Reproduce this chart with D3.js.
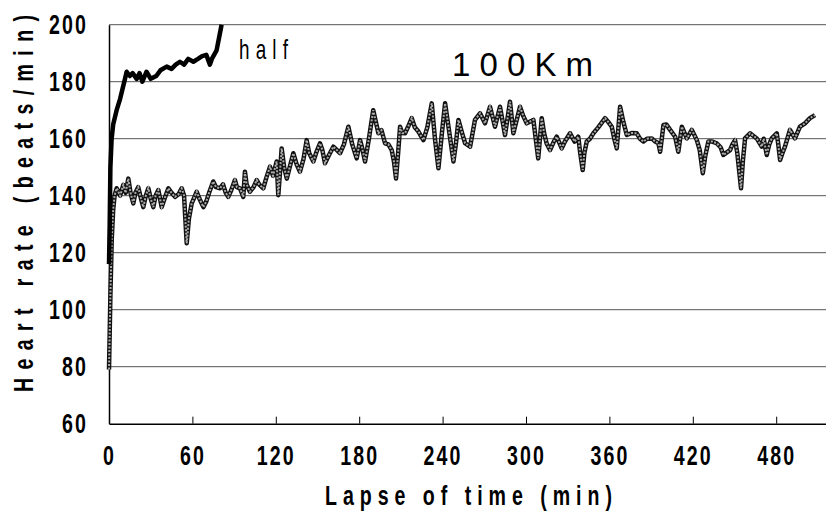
<!DOCTYPE html>
<html lang="en">

<head>
  <meta charset="UTF-8">
  <script src="https://d3js.org/d3.v7.min.js"></script>
  <style>
    html, body {
      margin: 0px;
      padding: 0px;
      background-color: white;
    }

    .tick text {
      font-family: "Liberation Sans", Arial, sans-serif;
      font-weight: bold;
      font-size: 28px;
      fill: black;
    }

    .title {
      font-family: "Liberation Sans", Arial, sans-serif;
      font-weight: bold;
      font-size: 28px;
      fill: black;
    }
  </style>
</head>

<body>
  <svg id="plot-svg" width="826" height="511"></svg>

  <script>
    // tick labels
    const xTicks = [0, 60, 120, 180, 240, 300, 360, 420, 480];
    const yTicks = [60, 80, 100, 120, 140, 160, 180, 200];

    // "half" marathon run
    const halfTime = [0, 0.5, 1, 1.9, 3, 5.5, 8, 10, 11.5, 12.7, 15, 17, 19.9, 22, 24, 27, 30, 34, 37,
      41.5, 45, 48, 51, 54, 57, 60.7, 64, 67, 70, 72.6, 74, 77.4, 79, 81];
    const halfRate = [116, 130, 150, 160, 165, 170, 174, 178, 181, 183.5, 182, 183, 181, 183, 180, 183.5, 181, 182, 184,
      185.3, 184.5, 186, 187, 186, 188, 187, 188, 189, 189.4, 186, 188, 191, 195, 200];

    // 100Km run
    const kmTime = [0, 1, 2, 3, 4, 5.5, 6.2, 8, 10.3, 12, 13.9, 15.5, 17.5, 19, 21, 23, 24.7, 26.5, 28.3, 30,
      31.9, 33.5, 35.5, 37.9, 40, 42.7, 45, 47.5, 50, 52.3, 54, 55.9, 57.5, 59.5, 61, 63.1, 65, 67.9, 70, 72,
      75, 77, 79.9, 82, 84, 85.8, 88, 90.6, 92, 94.2, 96.6, 97.8, 99, 101.4, 104, 106.3, 108, 111, 113, 115.8,
      118, 120.6, 121.8, 123, 124.2, 126, 127.9, 130, 132.6, 135, 137.4, 140, 142.2, 144, 147, 149, 151.8, 153.5, 155.4, 158,
      161.4, 164, 166.2, 169, 172.2, 175, 178.2, 180.6, 182, 184.2, 187, 190.1, 193.8, 196, 198.6, 201, 203.4, 205, 206.5, 208,
      209.4, 211, 213, 215, 217.8, 220, 222.6, 226.2, 229, 232.2, 234.5, 237, 239.5, 241.8, 244, 247.8, 249.5, 251.4, 254, 256.2,
      259.8, 263.3, 266.9, 270.5, 274.1, 277.7, 281.3, 284.9, 288.5, 290.9, 295.7, 298, 300.5, 305.3, 307, 308.8, 311.3, 313, 314.8, 317.3,
      320, 322.1, 325.7, 328, 331.7, 335, 337.6, 339, 340.8, 342, 343.7, 346, 348.5, 352, 356.9, 359, 361.7, 363.5, 365.3, 366.5,
      367.7, 370, 372.5, 376, 379.7, 382, 384.5, 387, 390.5, 393, 395.3, 396.5, 398.9, 401, 403.7, 407.3, 409.6, 412.1, 415.7, 419.3,
      422.9, 425, 427.2, 429, 431.2, 434, 437.2, 440, 442, 444, 446.8, 448.5, 450.4, 452, 454.7, 456, 457.6, 461.2, 466, 469.6,
      471, 473.2, 475, 476.8, 480.4, 481.5, 482.8, 484.5, 486.3, 489.9, 493.5, 497.1, 500.7, 504.3, 507.9];
    const kmRate = [79, 105, 125, 135, 140, 142.6, 142, 140, 143.8, 141, 146, 141, 137.3, 141, 143, 139, 136, 140, 142.6, 139,
      136, 140, 142, 136, 139, 142.6, 141, 139.6, 140.5, 142.6, 140, 123.3, 132, 137.3, 139, 141.4, 139, 136, 138, 141,
      145, 143, 142.6, 144, 141, 139.6, 142, 145.5, 143, 142.6, 139.6, 148.4, 144, 141.4, 143, 145.5, 144, 142.6, 146, 150.2,
      147, 152, 140.2, 148, 156.6, 150, 146, 150, 154.9, 151, 148.4, 153, 159.5, 155, 152, 155, 158.4, 156, 151.4, 154,
      157.2, 156, 154.9, 158, 164.2, 158, 153.1, 159.5, 157, 152, 160, 170, 161.9, 163, 158.4, 158, 156, 152, 146, 155,
      164.2, 162, 161.9, 164, 167.2, 164, 162.5, 159.5, 164, 172.4, 160, 149.6, 162, 172.4, 165, 152, 158, 166.6, 162, 158.4,
      157.2, 166.6, 168.9, 165.4, 171.2, 164.2, 171.2, 161.3, 173, 161.9, 171.2, 168, 165.4, 166.6, 160, 153.1, 167.2, 162, 158.4, 156,
      159, 160.7, 156.6, 159, 161.9, 159, 160.7, 155, 149, 155, 159, 160, 161.9, 164, 167.2, 166, 164.2, 160, 156.6, 164,
      171.2, 166, 161.3, 162, 161.9, 160, 159, 160, 160.1, 159, 158.4, 155.4, 164.8, 165, 163.1, 160.7, 155.4, 164.2, 160.1, 163.1,
      159.5, 156, 147.9, 154, 159, 159, 158.4, 157, 154.3, 155, 156, 158, 159.5, 155, 142.6, 152, 160.1, 161.9, 160.1, 157.2,
      160, 154.3, 158, 160.1, 161.9, 158, 152.5, 155, 157.2, 163.1, 160.1, 164.2, 165.4, 167.2, 168.3];

    const svg = d3.select("#plot-svg");
    const width = +svg.attr("width");
    const squeeze = 0.7; // the original font is tall and narrow

    const x = d3.scaleLinear().domain([0, 540]).range([109, 859.6]);
    const y = d3.scaleLinear().domain([60, 200]).range([423.7, 24.7]);

    // horizontal gridlines
    svg.append("g").attr("class", "gridlines")
      .selectAll("line").data(yTicks.slice(1))
      .join("line")
      .attr("x1", x(0)).attr("x2", width)
      .attr("y1", d => y(d)).attr("y2", d => y(d))
      .attr("stroke", "#555")
      .attr("stroke-width", 1);

    // bottom axis, ticks point up into the plot
    const bottomAxis = d3.axisBottom(x).tickValues(xTicks).tickSize(-7).tickSizeOuter(0).tickPadding(21);
    const gx = svg.append("g").attr("transform", `translate(0, ${y(60)})`).call(bottomAxis);
    gx.select(".domain").attr("stroke", "black").attr("stroke-width", 1.5);
    gx.selectAll(".tick line").attr("stroke", "black");
    gx.selectAll(".tick text")
      .attr("transform", `scale(${squeeze},1)`)
      .style("letter-spacing", "3px");

    // left axis
    const leftAxis = d3.axisLeft(y).tickValues(yTicks).tickSize(0).tickPadding(21);
    const gy = svg.append("g").attr("transform", `translate(${x(0)}, 0)`).call(leftAxis);
    gy.select(".domain").attr("stroke", "black").attr("stroke-width", 1.5);
    gy.selectAll(".tick text")
      .attr("x", -21 / squeeze)
      .attr("transform", `scale(${squeeze},1)`)
      .style("letter-spacing", "3px");

    // lines
    const kmData = kmTime.map((t, i) => [t, kmRate[i]]);
    const halfData = halfTime.map((t, i) => [t, halfRate[i]]);
    const line = d3.line().x(d => x(d[0])).y(d => y(d[1]));

    // 100Km: beaded grey look -> dark stroke with grey dashes inside
    svg.append("path").datum(kmData)
      .attr("d", line).attr("fill", "none")
      .attr("stroke", "#111").attr("stroke-width", 4.5)
      .attr("stroke-linejoin", "round");
    svg.append("path").datum(kmData)
      .attr("d", line).attr("fill", "none")
      .attr("stroke", "#aaa").attr("stroke-width", 2)
      .attr("stroke-dasharray", "2,1.5");

    // half: thick black
    svg.append("path").datum(halfData)
      .attr("d", line).attr("fill", "none")
      .attr("stroke", "black").attr("stroke-width", 4.5)
      .attr("stroke-linejoin", "round");

    // labels
    svg.append("text").attr("class", "title")
      .attr("transform", `translate(239, 59) scale(${squeeze},1)`)
      .attr("textLength", 49 / squeeze).attr("lengthAdjust", "spacing")
      .style("font-weight", "normal").style("font-size", "27px")
      .text("half");

    svg.append("text")
      .attr("x", 452).attr("y", 76)
      .attr("textLength", 141).attr("lengthAdjust", "spacing")
      .style("font-family", "'Liberation Sans', Arial, sans-serif")
      .style("font-size", "33px")
      .text("100Km");

    svg.append("text").attr("class", "title")
      .attr("transform", `translate(325, 505) scale(${squeeze},1)`)
      .attr("textLength", 287 / squeeze).attr("lengthAdjust", "spacing")
      .text("Lapse of time (min)");

    svg.append("text").attr("class", "title")
      .attr("transform", `translate(33, 392) rotate(-90) scale(${squeeze},1)`)
      .attr("textLength", 377 / squeeze).attr("lengthAdjust", "spacing")
      .text("Heart rate (beats/min)");
  </script>
</body>

</html>
